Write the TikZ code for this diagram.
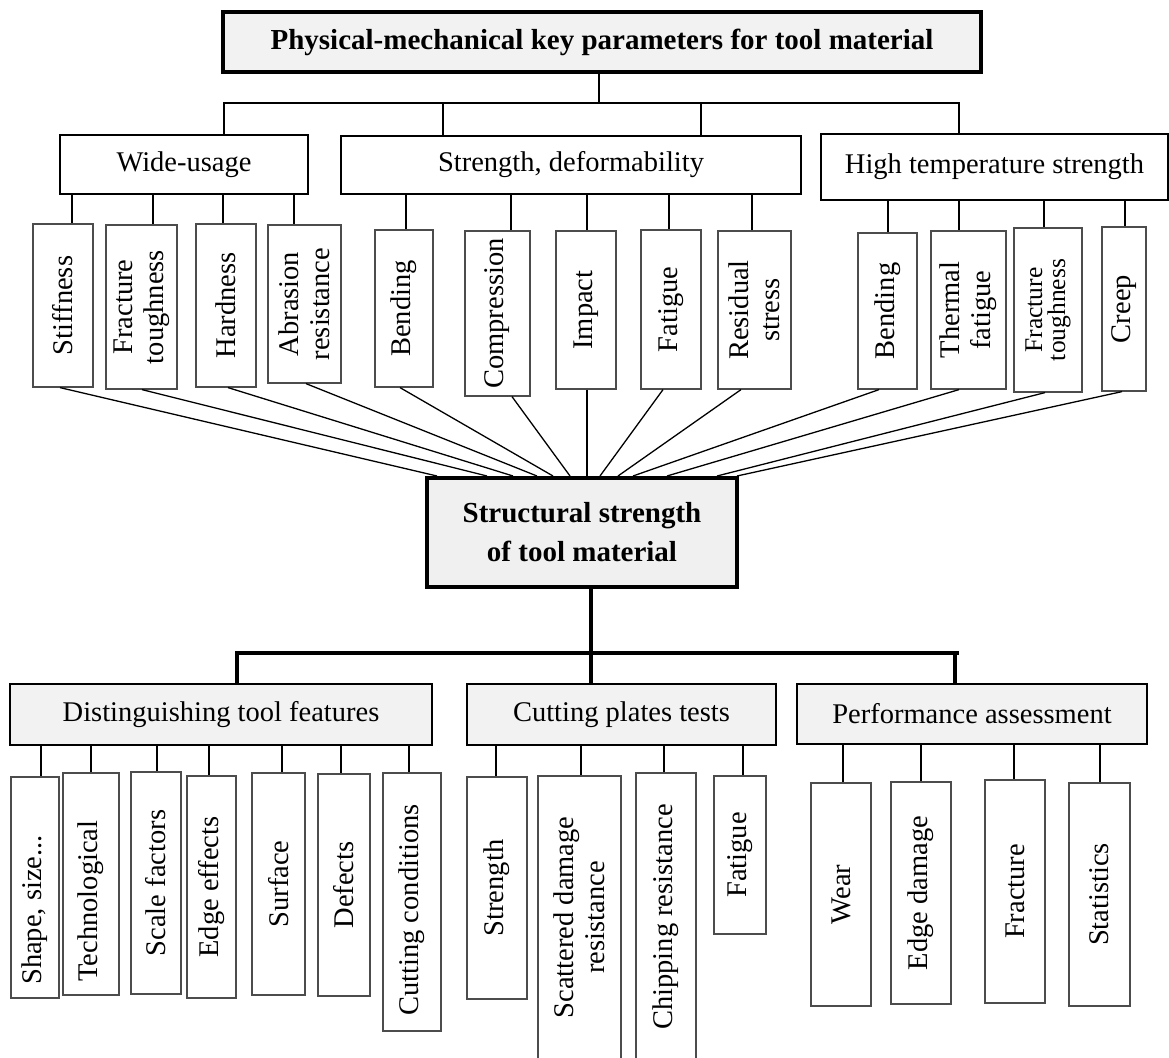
\documentclass[tikz,border=0pt]{standalone}
\usepackage{fontspec}
\setmainfont{Liberation Serif}
\definecolor{boxgray}{HTML}{F2F2F2}
\newcommand{\hbx}[7]{\node[#2, minimum width={#5-#3}, minimum height={#6-#4}] (#1) at ({(#3+#5)/2},{(#4+#6)/2}) {#7};}
\newcommand{\vbx}[7][]{\node[leaf, #1, minimum width={#6-#4}, minimum height={#5-#3}] (#2) at ({(#3+#5)/2},{(#4+#6)/2}) {#7};}
\newcommand{\dropln}[4][conn]{\coordinate (dtmp) at (#4,0); \draw[#1] (#2.south -| dtmp) -- (#3.east -| dtmp);}
\newcommand{\fanln}[3]{\coordinate (fa) at (#2,0); \coordinate (fb) at (#3,0); \draw[conn] (#1.west -| fa) -- (ss.north -| fb);}
\begin{document}
\begin{tikzpicture}[x=1pt,y=-1pt,
  conn/.style={line width=1.3pt, draw=black},
  dconn/.style={line width=1.5pt, draw=black},
  thickconn/.style={line width=3.3pt, draw=black, line join=miter},
  titlebox/.style={draw=black, line width=4pt, fill=boxgray, inner sep=0pt, align=center,
     font=\fontsize{29}{39}\selectfont\bfseries},
  grpbox/.style={draw=black, line width=2pt, fill=white, inner sep=0pt,
     font=\fontsize{28.5}{31}\selectfont},
  grpgray/.style={grpbox, fill=boxgray},
  leaf/.style={draw=black!70, line width=1.2pt, fill=white, inner sep=0pt, rotate=90, align=center,
     font=\fontsize{28.5}{31}\selectfont},
  small/.style={font=\fontsize{25.5}{23}\selectfont}
]
\useasboundingbox (0,0) rectangle (1169,1057);
\fill[white] (0,0) rectangle (1169,1057);

% top part
\hbx{title}{titlebox}{223}{12}{981}{72}{Physical-mechanical key parameters for tool material}
\hbx{wu}{grpbox}{60}{135}{308}{194}{Wide-usage}
\hbx{sd}{grpbox}{341}{136}{801}{194}{Strength, deformability}
\hbx{ht}{grpbox}{821}{134}{1168}{200}{High temperature strength}

\vbx{a1}{33}{224}{93}{387}{Stiffness}
\vbx{a2}{106}{225}{177}{389}{Fracture\\toughness}
\vbx{a3}{196}{224}{256}{387}{Hardness}
\vbx{a4}{268}{225}{341}{383}{Abrasion\\resistance}
\vbx{b1}{375}{230}{433}{387}{Bending}
\vbx{b2}{465}{231}{530}{396}{Compression}
\vbx{b3}{556}{231}{616}{389}{Impact}
\vbx{b4}{641}{230}{701}{389}{Fatigue}
\vbx{b5}{718}{231}{791}{389}{Residual\\stress}
\vbx{c1}{858}{233}{917}{389}{Bending}
\vbx{c2}{931}{231}{1006}{389}{Thermal\\fatigue}
\vbx[small]{c3}{1014}{228}{1082}{392}{Fracture\\toughness}
\vbx{c4}{1102}{227}{1146}{391}{Creep}

\hbx{ss}{titlebox, fill=black!6}{427}{478}{737}{587}{Structural strength\\of tool material}

% bottom part
\hbx{dt}{grpgray}{10}{684}{432}{745}{Distinguishing tool features}
\hbx{cp}{grpgray}{467}{684}{776}{745}{Cutting plates tests}
\hbx{pa}{grpgray}{797}{684}{1147}{744}{Performance assessment}

\vbx{d1}{11}{777}{59}{998}{Shape, size...\hspace*{45pt}}
\vbx{d2}{63}{773}{119}{995}{Technological\hspace*{34pt}}
\vbx{d3}{131}{772}{181}{994}{Scale factors}
\vbx{d4}{187}{776}{236}{998}{Edge effects}
\vbx{d5}{252}{773}{305}{995}{Surface}
\vbx{d6}{318}{774}{370}{996}{Defects}
\vbx{d7}{383}{773}{441}{1031}{Cutting conditions\hspace*{16pt}}
\vbx{e1}{467}{777}{527}{999}{Strength}
\vbx{e2}{538}{776}{621}{1059}{Scattered damage\\resistance}
\vbx{e3}{636}{773}{696}{1061}{Chipping resistance}
\vbx{e4}{714}{776}{766}{934}{Fatigue}
\vbx{f1}{811}{783}{871}{1006}{Wear}
\vbx{f2}{891}{782}{951}{1004}{Edge damage}
\vbx{f3}{985}{780}{1045}{1003}{Fracture}
\vbx{f4}{1069}{783}{1130}{1006}{Statistics}

% top bus
\coordinate (tb) at (599,103);
\coordinate (tbL) at (224,103);
\coordinate (tbR) at (959,103);
\coordinate (tb2) at (443,103);
\coordinate (tb3) at (701,103);
\draw[conn] (title.south -| tb) -- (tb);
\draw[conn] (wu.north -| tbL) -- (tbL) -- (tbR) -- (ht.north -| tbR);
\draw[conn] (tb2) -- (sd.north -| tb2);
\draw[conn] (tb3) -- (sd.north -| tb3);

% drops to top leaves
\dropln{wu}{a1}{72}
\dropln{wu}{a2}{153}
\dropln{wu}{a3}{223}
\dropln{wu}{a4}{294}
\dropln{sd}{b1}{406}
\dropln{sd}{b2}{511}
\dropln{sd}{b3}{587}
\dropln{sd}{b4}{669}
\dropln{sd}{b5}{752}
\dropln{ht}{c1}{888}
\dropln{ht}{c2}{959}
\dropln{ht}{c3}{1044}
\dropln{ht}{c4}{1125}

% fan into structural strength
\fanln{a1}{60}{437}
\fanln{a2}{142}{487}
\fanln{a3}{228}{513}
\fanln{a4}{306}{537}
\fanln{b1}{400}{553}
\fanln{b2}{512}{570}
\fanln{b3}{587}{587}
\fanln{b4}{663}{600}
\fanln{b5}{741}{618}
\fanln{c1}{879}{633}
\fanln{c2}{959}{667}
\fanln{c3}{1045}{717}
\fanln{c4}{1122}{737}

% bottom bus
\coordinate (bbL) at (237,653);
\coordinate (bbR) at (959,653);
\coordinate (bbM) at (591,653);
\coordinate (bbP) at (955,653);
\draw[thickconn] (dt.north -| bbL) -- (bbL) -- (bbR);
\draw[thickconn] (ss.south -| bbM) -- (cp.north -| bbM);
\draw[thickconn] (bbP) -- (pa.north -| bbP);

% drops to bottom leaves
\dropln[dconn]{dt}{d1}{41}
\dropln[dconn]{dt}{d2}{91}
\dropln[dconn]{dt}{d3}{157}
\dropln[dconn]{dt}{d4}{209}
\dropln[dconn]{dt}{d5}{282}
\dropln[dconn]{dt}{d6}{341}
\dropln[dconn]{dt}{d7}{409}
\dropln[dconn]{cp}{e1}{496}
\dropln[dconn]{cp}{e2}{581}
\dropln[dconn]{cp}{e3}{664}
\dropln[dconn]{cp}{e4}{743}
\dropln[dconn]{pa}{f1}{843}
\dropln[dconn]{pa}{f2}{921}
\dropln[dconn]{pa}{f3}{1014}
\dropln[dconn]{pa}{f4}{1100}
\end{tikzpicture}
\end{document}
